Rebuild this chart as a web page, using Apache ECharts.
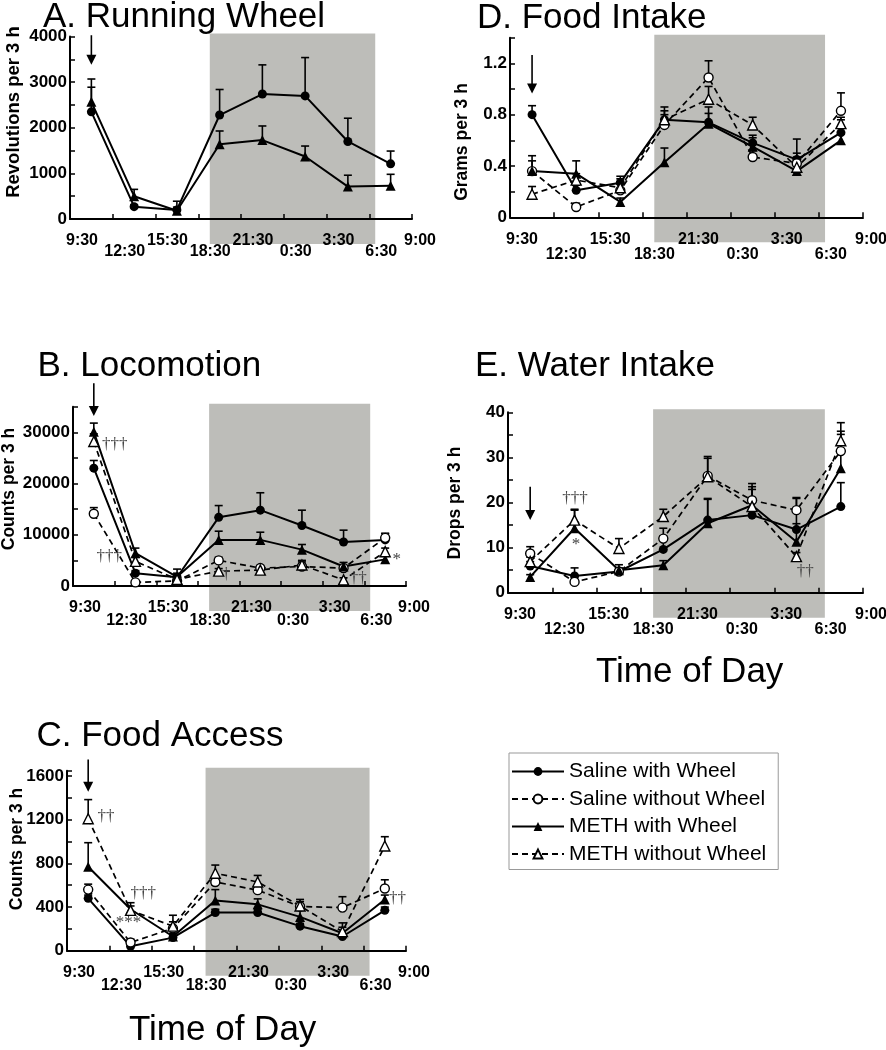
<!DOCTYPE html>
<html><head><meta charset="utf-8">
<script src="https://cdn.jsdelivr.net/npm/echarts@6/dist/echarts.min.js"></script>
<style>html,body{margin:0;padding:0;background:#fff}#c{width:886px;height:1050px}</style>
</head><body><div id="c"></div>
<script>
// ---------- categories / tick labels ----------
const bins = ['9:30','12:30','15:30','18:30','21:30','0:30','3:30','6:30'];
const tickLabels = ['9:30','12:30','15:30','18:30','21:30','0:30','3:30','6:30','9:00'];
const groups = ['Saline with Wheel','Saline without Wheel','METH with Wheel','METH without Wheel'];
const darkStart = 3.27, darkEnd = 7.14;   // dark phase, in 3-h bin units from 9:30

// ---------- A. Running Wheel (revolutions per 3 h) ----------
const wheelSalW     = [2350, 270, 200, 2280, 2740, 2700, 1700, 1210];
const wheelSalWSem  = [720, 40, 60, 560, 640, 840, 510, 280];
const wheelMethW    = [2570, 500, 180, 1640, 1730, 1370, 710, 730];
const wheelMethWSem = [320, 150, 210, 290, 310, 230, 250, 250];
const wheelArrow    = [3380, 4030];

// ---------- B. Locomotion (counts per 3 h) ----------
const locoSalW      = [23000, 2500, 1700, 13400, 14800, 11800, 8600, 9000];
const locoSalWSem   = [1500, 500, 800, 2300, 3400, 3000, 2300, 1300];
const locoSalWO     = [14100, 700, 1000, 5000, 3500, 3800, 3500, 9400];
const locoSalWOSem  = [1200, 300, 300, 600, 500, 1200, 500, 800];
const locoMethW     = [30100, 6400, 1800, 9000, 9000, 7100, 3800, 5200];
const locoMethWSem  = [1700, 1000, 1500, 1700, 1500, 1000, 800, 600];
const locoMethWO    = [28200, 4800, 1300, 2900, 3100, 4100, 1200, 6700];
const locoMethWOSem = [1500, 800, 400, 500, 500, 600, 400, 700];
const locoArrow     = [33200, 39600];
const locoNotes     = [['†††', 1.0, 27700], ['†††', 0.87, 5800], ['†', 3.68, 2200], ['††', 6.85, 1500], ['*', 7.78, 5100]];

// ---------- C. Food Access (counts per 3 h) ----------
const accSalW      = [480, 40, 120, 350, 350, 225, 130, 370];
const accSalWSem   = [30, 20, 20, 30, 30, 25, 20, 30];
const accSalWO     = [560, 75, 205, 630, 555, 405, 395, 570];
const accSalWOSem  = [50, 30, 120, 40, 40, 65, 100, 80];
const accMethW     = [770, 380, 130, 460, 425, 310, 160, 470];
const accMethWSem  = [220, 60, 30, 100, 50, 60, 95, 40];
const accMethWO    = [1210, 370, 225, 710, 630, 410, 175, 960];
const accMethWOSem = [175, 40, 40, 75, 60, 40, 40, 85];
const accArrow     = [1456, 1753];
const accNotes     = [['††', 0.92, 1230], ['†††', 1.8, 525], ['***', 1.45, 256], ['††', 7.8, 480]];

// ---------- D. Food Intake (grams per 3 h) ----------
const foodSalW      = [0.80, 0.21, 0.27, 0.76, 0.74, 0.58, 0.45, 0.66];
const foodSalWSem   = [0.07, 0.04, 0.05, 0.10, 0.12, 0.06, 0.05, 0.10];
const foodSalWO     = [0.36, 0.08, 0.21, 0.72, 1.09, 0.47, 0.42, 0.83];
const foodSalWOSem  = [0.08, 0.03, 0.05, 0.08, 0.13, 0.05, 0.05, 0.14];
const foodMethW     = [0.36, 0.34, 0.12, 0.43, 0.73, 0.55, 0.36, 0.60];
const foodMethWSem  = [0.12, 0.10, 0.03, 0.11, 0.08, 0.07, 0.04, 0.05];
const foodMethWO    = [0.18, 0.29, 0.23, 0.76, 0.92, 0.72, 0.39, 0.73];
const foodMethWOSem = [0.06, 0.05, 0.07, 0.07, 0.10, 0.06, 0.22, 0.05];
const foodArrow     = [0.966, 1.265];

// ---------- E. Water Intake (drops per 3 h) ----------
const waterSalW      = [5.9, 3.7, 4.7, 9.6, 16.1, 17.2, 14.0, 19.1];
const waterSalWSem   = [1.0, 1.8, 0.8, 3.0, 4.6, 1.5, 6.9, 5.3];
const waterSalWO     = [8.7, 2.4, 4.7, 12.0, 25.9, 20.5, 18.3, 31.4];
const waterSalWOSem  = [1.5, 0.5, 0.6, 2.3, 4.3, 3.7, 2.8, 4.4];
const waterMethW     = [3.5, 14.3, 5.0, 6.1, 15.4, 19.4, 11.3, 27.6];
const waterMethWSem  = [0.5, 4.0, 1.2, 1.0, 5.5, 3.5, 4.0, 7.5];
const waterMethWO    = [6.9, 16.1, 9.8, 16.9, 25.7, 19.1, 8.0, 33.7];
const waterMethWOSem = [1.0, 2.4, 2.2, 1.6, 4.1, 4.4, 0.9, 4.0];
const waterArrow     = [16.1, 23.5];
const waterNotes     = [['†††', 1.51, 20.9], ['*', 1.53, 10.6], ['††', 6.7, 4.7]];

// ---------- layout ----------
const FONT = '"Liberation Sans", Arial, Helvetica, sans-serif';
const panels = [
  {title:'A. Running Wheel', tx:43, ty:17, grid:{left:70, top:36.6, width:342, height:182.4},
   yMax:4000, yTick:500, yStep:1000, dec:0, yName:'Revolutions per 3 h', nx:14, ny:112, nfs:18.5, rowGap:11,
   lines:[[wheelSalW, wheelSalWSem, 0], [wheelMethW, wheelMethWSem, 2]], arrow:wheelArrow, notes:[]},
  {title:'B. Locomotion', tx:37.5, ty:366, grid:{left:73, top:406.7, width:333, height:179.3},
   yMax:35000, yTick:5000, yStep:10000, dec:0, yName:'Counts per 3 h', nx:9, ny:489, nfs:17.5, rowGap:13,
   lines:[[locoSalW, locoSalWSem, 0], [locoSalWO, locoSalWOSem, 1], [locoMethW, locoMethWSem, 2], [locoMethWO, locoMethWOSem, 3]],
   arrow:locoArrow, notes:locoNotes},
  {title:'C. Food Access', tx:36.5, ty:736, grid:{left:67, top:770.7, width:339, height:180},
   yMax:1650, yTick:200, yStep:400, dec:0, yName:'Counts per 3 h', nx:17, ny:849, nfs:17.5, rowGap:13,
   lines:[[accSalW, accSalWSem, 0], [accSalWO, accSalWOSem, 1], [accMethW, accMethWSem, 2], [accMethWO, accMethWOSem, 3]],
   arrow:accArrow, notes:accNotes},
  {title:'D. Food Intake', tx:477, ty:18, grid:{left:510, top:37.7, width:353, height:179.6},
   yMax:1.4, yTick:0.2, yStep:0.4, dec:1, yName:'Grams per 3 h', nx:462, ny:142, nfs:17.5, rowGap:15,
   lines:[[foodSalW, foodSalWSem, 0], [foodSalWO, foodSalWOSem, 1], [foodMethW, foodMethWSem, 2], [foodMethWO, foodMethWOSem, 3]],
   arrow:foodArrow, notes:[]},
  {title:'E. Water Intake', tx:475, ty:366, grid:{left:508, top:412.3, width:355, height:180.4},
   yMax:40, yTick:5, yStep:10, dec:0, yName:'Drops per 3 h', nx:455, ny:503, nfs:17.5, rowGap:15,
   lines:[[waterSalW, waterSalWSem, 0], [waterSalWO, waterSalWOSem, 1], [waterMethW, waterMethWSem, 2], [waterMethWO, waterMethWOSem, 3]],
   arrow:waterArrow, notes:waterNotes}
];

function isMult(v, s){ const r = v / s; return Math.abs(r - Math.round(r)) < 1e-6; }

const option = {
  animation:false,
  textStyle:{fontFamily:FONT},
  grid:[], xAxis:[], yAxis:[], series:[], graphic:[],
  legend:{
    orient:'vertical', left:509, top:753, data:groups, selectedMode:false,
    itemWidth:52, itemHeight:11, itemGap:6.5, padding:[8,12,5,2],
    borderColor:'#999', borderWidth:1, backgroundColor:'#fff',
    textStyle:{fontSize:21, color:'#000', fontFamily:FONT, lineHeight:21}
  }
};

panels.forEach((p, k) => {
  option.grid.push(Object.assign({containLabel:false}, p.grid));
  option.xAxis.push({
    type:'value', gridIndex:k, min:0, max:bins.length, interval:1,
    axisLine:{onZero:false, lineStyle:{color:'#000', width:2}},
    axisTick:{inside:true, length:5, lineStyle:{color:'#000', width:1.5}},
    splitLine:{show:false},
    axisLabel:{show:false}
  });
  option.yAxis.push({
    type:'value', gridIndex:k, min:0, max:p.yMax, interval:p.yTick,
    axisLine:{show:true, onZero:false, lineStyle:{color:'#000', width:2}},
    axisTick:{show:true, inside:true, length:5, lineStyle:{color:'#000', width:1.5}},
    splitLine:{show:false},
    axisLabel:{color:'#000', fontWeight:'bold', fontSize:17, margin:3, padding:[12,0,0,0],
      showMinLabel:true, showMaxLabel:true,
      formatter:(v)=> isMult(v, p.yStep) && v <= p.yMax ? (v === 0 ? '0' : v.toFixed(p.dec)) : ''}
  });

  // dark phase shading (drawn under axes, spills below x axis like the original)
  option.series.push({
    type:'custom', name:'dark'+k, xAxisIndex:k, yAxisIndex:k, z:-1, silent:true, clip:false,
    encode:{x:[0,1], y:2}, data:[[darkStart, darkEnd, 0]],
    renderItem:(params, api)=>{
      const cs = params.coordSys;
      const x0 = api.coord([api.value(0), 0])[0], x1 = api.coord([api.value(1), 0])[0];
      return {type:'rect', shape:{x:x0, y:cs.y - 3, width:x1 - x0, height:cs.height + 28}, style:{fill:'#bdbdb9'}};
    }
  });

  // staggered time-of-day tick labels at the bin boundaries
  option.series.push({
    type:'custom', name:'ticks'+k, xAxisIndex:k, yAxisIndex:k, z:2, silent:true, clip:false,
    encode:{x:0, y:1}, data: tickLabels.map((t, i) => [i, 0]),
    renderItem:(params, api)=>{
      const i = params.dataIndex;
      const c = api.coord([api.value(0), api.value(1)]);
      const dx = i === tickLabels.length - 1 ? 8 : 12;
      return {type:'text', x:c[0] + dx, y:c[1] + 14 + (i % 2 ? p.rowGap : 0),
        style:{text:tickLabels[i], font:'bold 16px ' + FONT, fill:'#000', align:'center', verticalAlign:'top'}};
    }
  });

  // lines + markers
  p.lines.forEach(([vals, sem, g]) => {
    const dashed = g % 2 === 1;
    option.series.push({
      type:'line', name:groups[g], xAxisIndex:k, yAxisIndex:k, z:4,
      data: bins.map((b, i) => [i + 0.5, vals[i]]),
      symbol: g < 2 ? 'circle' : 'triangle', symbolSize: g < 2 ? 9 : 10, showSymbol:true,
      lineStyle:{color:'#000', width: dashed ? 1.7 : 2, type: dashed ? [6,4] : 'solid'},
      itemStyle:{color: dashed ? '#fff' : '#000', borderColor:'#000', borderWidth: dashed ? 1.4 : 0},
      emphasis:{disabled:true}
    });
    // error bars (upper SEM)
    option.series.push({
      type:'custom', name:'err'+k+'_'+g, xAxisIndex:k, yAxisIndex:k, z:3, silent:true, clip:false,
      encode:{x:0, y:[1,2]},
      data: bins.map((b, i) => [i + 0.5, vals[i], vals[i] + sem[i]]),
      renderItem:(params, api)=>{
        const x = api.value(0);
        const a = api.coord([x, api.value(1)]), t = api.coord([x, api.value(2)]);
        return {type:'group', children:[
          {type:'line', shape:{x1:a[0], y1:a[1], x2:t[0], y2:t[1]}, style:{stroke:'#000', lineWidth:1.6}},
          {type:'line', shape:{x1:t[0]-4, y1:t[1], x2:t[0]+4, y2:t[1]}, style:{stroke:'#000', lineWidth:1.6}}
        ]};
      }
    });
  });

  // injection arrow
  option.series.push({
    type:'custom', name:'arrow'+k, xAxisIndex:k, yAxisIndex:k, z:5, silent:true, clip:false,
    encode:{x:0, y:[1,2]}, data:[[0.5, p.arrow[0], p.arrow[1]]],
    renderItem:(params, api)=>{
      const tip = api.coord([api.value(0), api.value(1)]), tail = api.coord([api.value(0), api.value(2)]);
      return {type:'group', children:[
        {type:'line', shape:{x1:tip[0], y1:tail[1], x2:tip[0], y2:tip[1]-8}, style:{stroke:'#000', lineWidth:1.6}},
        {type:'polygon', shape:{points:[[tip[0]-5, tip[1]-10], [tip[0]+5, tip[1]-10], [tip[0], tip[1]]]}, style:{fill:'#000'}}
      ]};
    }
  });

  // significance marks
  if (p.notes.length) {
    const notes = p.notes;
    option.series.push({
      type:'custom', name:'notes'+k, xAxisIndex:k, yAxisIndex:k, z:6, silent:true, clip:false,
      encode:{x:0, y:1}, data: notes.map(n => [n[1], n[2]]),
      renderItem:(params, api)=>{
        const c = api.coord([api.value(0), api.value(1)]);
        return {type:'text', x:c[0], y:c[1], style:{text:notes[params.dataIndex][0], font:'17px "Liberation Serif", "DejaVu Serif", serif', fill:'#444', align:'center', verticalAlign:'middle'}};
      }
    });
  }

  option.graphic.push({type:'text', x:p.tx, y:p.ty, silent:true,
    style:{text:p.title, font:'35px ' + FONT, fill:'#000', align:'left', verticalAlign:'middle'}});
  option.graphic.push({type:'text', x:p.nx, y:p.ny, rotation:Math.PI/2, silent:true,
    style:{text:p.yName, font:'bold ' + p.nfs + 'px ' + FONT, fill:'#000', align:'center', verticalAlign:'middle'}});
});

option.graphic.push({type:'text', x:129, y:1030, silent:true, style:{text:'Time of Day', font:'35px ' + FONT, fill:'#000', align:'left', verticalAlign:'middle'}});
option.graphic.push({type:'text', x:596, y:672, silent:true, style:{text:'Time of Day', font:'35px ' + FONT, fill:'#000', align:'left', verticalAlign:'middle'}});

const chart = echarts.init(document.getElementById('c'), null, {renderer:'canvas'});
chart.setOption(option);
</script>
</body></html>
